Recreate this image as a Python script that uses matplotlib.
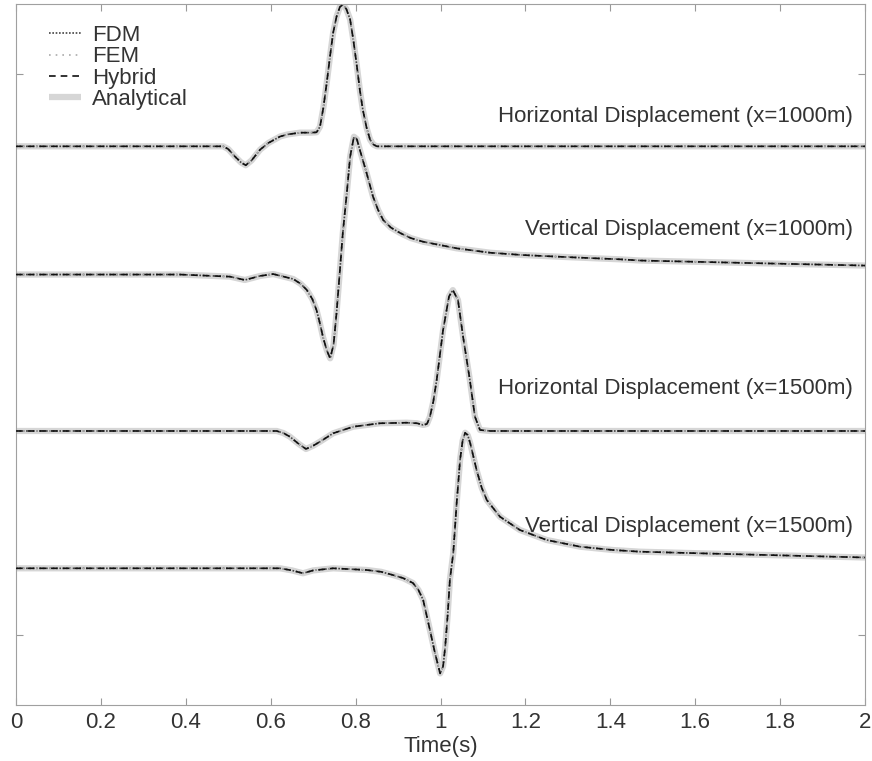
import numpy as np
import matplotlib.pyplot as plt

plt.rcParams['font.family'] = ['Liberation Sans', 'DejaVu Sans']

# traces: time (s) and amplitude relative to each trace's baseline
t_h1000 = [0, 0.433, 0.488, 0.50, 0.516, 0.53, 0.541, 0.555, 0.575, 0.595, 0.622, 0.64,
           0.669, 0.695, 0.708, 0.716, 0.724, 0.732, 0.740, 0.747, 0.755, 0.763, 0.770,
           0.778, 0.787, 0.795, 0.803, 0.81, 0.817, 0.826, 0.834, 0.842, 0.850, 2.0]
a_h1000 = [0, 0, 0, -0.04, -0.147, -0.23, -0.27, -0.2, -0.047, 0.05, 0.14, 0.17,
           0.195, 0.195, 0.2, 0.28, 0.55, 0.91, 1.3, 1.62, 1.85, 1.99, 2.02,
           1.96, 1.81, 1.5, 1.14, 0.8, 0.52, 0.26, 0.096, 0.025, 0, 0]

t_v1000 = [0, 0.386, 0.504, 0.539, 0.575, 0.606, 0.653, 0.670, 0.685, 0.698, 0.708,
           0.716, 0.723, 0.732, 0.740, 0.748, 0.755, 0.763, 0.770, 0.779, 0.787, 0.796,
           0.803, 0.810, 0.826, 0.841, 0.853, 0.865, 0.883, 0.905, 0.930,
           0.959, 1.038, 1.117, 1.194, 1.312, 1.423, 1.470, 1.729, 2.0]
a_v1000 = [0, 0, -0.03, -0.078, -0.02, 0.007, -0.064, -0.13, -0.22, -0.35, -0.51,
           -0.7, -0.89, -1.08, -1.195, -1.0, -0.55, 0.064, 0.606, 1.15, 1.68, 1.966,
           1.93, 1.776, 1.444, 1.11, 0.92, 0.777, 0.67, 0.592, 0.52,
           0.468, 0.374, 0.311, 0.278, 0.245, 0.217, 0.2, 0.164, 0.128]

t_h1500 = [0, 0.614, 0.630, 0.645, 0.665, 0.683, 0.700, 0.716, 0.747, 0.794, 0.857,
           0.920, 0.945, 0.959, 0.968, 0.975, 0.983, 0.991, 1.006, 1.020, 1.029, 1.041,
           1.053, 1.069, 1.081, 1.093, 1.117, 2.0]
a_h1500 = [0, 0, -0.03, -0.081, -0.18, -0.257, -0.21, -0.153, -0.033, 0.061, 0.11,
           0.118, 0.11, 0.086, 0.1, 0.204, 0.42, 0.73, 1.44, 1.92, 2.01, 1.87,
           1.35, 0.73, 0.204, 0.014, 0, 0]

t_v1500 = [0, 0.622, 0.650, 0.676, 0.700, 0.747, 0.826, 0.860, 0.888, 0.912, 0.935,
           0.948, 0.959, 0.975, 0.987, 0.999, 1.006, 1.011, 1.017, 1.022, 1.030, 1.038,
           1.046, 1.052, 1.058, 1.064, 1.070, 1.085, 1.097, 1.109, 1.140,
           1.187, 1.250, 1.329, 1.406, 1.470, 1.611, 2.0]
a_v1500 = [0, 0, -0.03, -0.071, -0.03, 0, -0.024, -0.05, -0.096, -0.14, -0.21,
           -0.31, -0.45, -0.88, -1.21, -1.50, -1.4, -1.12, -0.65, -0.167, 0.218, 0.93,
           1.545, 1.82, 1.934, 1.9, 1.783, 1.40, 1.15, 0.974, 0.736,
           0.546, 0.404, 0.308, 0.261, 0.237, 0.214, 0.154]

offsets = [2.97, 1.141, -1.091, -3.05]
trace_labels = ['Horizontal Displacement (x=1000m)', 'Vertical Displacement (x=1000m)',
                'Horizontal Displacement (x=1500m)', 'Vertical Displacement (x=1500m)']
label_y = [3.40, 1.79, -0.49, -2.46]

xticks = [0, 0.2, 0.4, 0.6, 0.8, 1.0, 1.2, 1.4, 1.6, 1.8, 2.0]
xticklabels = ['0', '0.2', '0.4', '0.6', '0.8', '1', '1.2', '1.4', '1.6', '1.8', '2']

traces = [(t_h1000, a_h1000), (t_v1000, a_v1000), (t_h1500, a_h1500), (t_v1500, a_v1500)]

fig = plt.figure(figsize=(8.72, 7.61), dpi=100)
ax = fig.add_axes([0.0184, 0.0736, 0.9736, 0.9211])

for i, (t, a) in enumerate(traces):
    y = np.array(a) + offsets[i]
    first = (i == 0)
    ax.plot(t, y, color='#d6d6d6', lw=4.5, solid_capstyle='butt',
            label='Analytical' if first else None, zorder=1)
    ax.plot(t, y, color='#444444', lw=1.2, ls=(0, (1, 1)),
            label='FDM' if first else None, zorder=2)
    ax.plot(t, y, color='#aaaaaa', lw=1.2, ls=(0, (1, 3)),
            label='FEM' if first else None, zorder=3)
    ax.plot(t, y, color='#111111', lw=1.2, ls=(0, (4, 3)),
            label='Hybrid' if first else None, zorder=4)
    ax.text(1.972, label_y[i], trace_labels[i], ha='right', va='center',
            fontsize=16, color='#333333')

ax.set_xlim(0, 2)
ax.set_ylim(-5, 5)
ax.set_xticks(xticks)
ax.set_xticklabels(xticklabels)
ax.set_yticks([-4, 4])
ax.set_yticklabels([])
ax.tick_params(direction='in', length=5, color='#999999', labelsize=16,
               labelcolor='#333333', top=True, right=True, pad=5)
for s in ax.spines.values():
    s.set_color('#a0a0a0')
ax.set_xlabel('Time(s)', fontsize=16, color='#333333', labelpad=2)

h, l = ax.get_legend_handles_labels()
order = [l.index(n) for n in ['FDM', 'FEM', 'Hybrid', 'Analytical']]
leg = ax.legend([h[k] for k in order], [l[k] for k in order], loc='upper left',
                frameon=False, fontsize=16, labelspacing=0.02, handlelength=1.45,
                handletextpad=0.5, borderaxespad=0.0, bbox_to_anchor=(0.028, 0.983))
for txt in leg.get_texts():
    txt.set_color('#333333')

fig.savefig('out.png', dpi=100)
